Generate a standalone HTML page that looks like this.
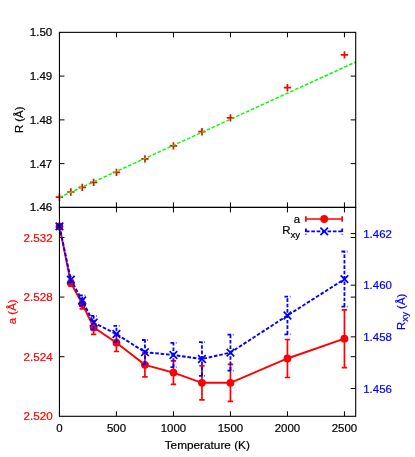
<!DOCTYPE html>
<html><head><meta charset="utf-8"><title>plot</title>
<style>html,body{margin:0;padding:0;background:#fff;}svg{display:block;position:absolute;left:0;top:0;will-change:transform;}text{font-family:"Liberation Sans",sans-serif;}</style>
</head><body>
<svg width="415" height="457" viewBox="0 0 415 457">
<rect x="0" y="0" width="415" height="457" fill="#ffffff"/>
<path d="M59.45,32.35v5M59.45,202.4v10M59.45,416.3v-5M116.45,32.35v5M116.45,202.4v10M116.45,416.3v-5M173.45,32.35v5M173.45,202.4v10M173.45,416.3v-5M230.45,32.35v5M230.45,202.4v10M230.45,416.3v-5M287.45,32.35v5M287.45,202.4v10M287.45,416.3v-5M344.45,32.35v5M344.45,202.4v10M344.45,416.3v-5M59.45,76.11h5M355.7,76.11h-5M59.45,119.88h5M355.7,119.88h-5M59.45,163.64h5M355.7,163.64h-5M59.45,356.70h5M355.7,356.70h-5M59.45,297.10h5M355.7,297.10h-5M59.45,237.50h5M355.7,237.50h-5M355.7,388.50h-5M355.7,336.85h-5M355.7,285.20h-5M355.7,233.55h-5" stroke="#000" stroke-width="1" fill="none"/>
<path d="M55.75,197.20h7.4M59.45,193.50v7.4M67.15,192.00h7.4M70.85,188.30v7.4M78.55,187.40h7.4M82.25,183.70v7.4M89.95,182.40h7.4M93.65,178.70v7.4M112.75,172.40h7.4M116.45,168.70v7.4M141.25,158.90h7.4M144.95,155.20v7.4M169.75,145.90h7.4M173.45,142.20v7.4M198.25,131.70h7.4M201.95,128.00v7.4M226.75,117.90h7.4M230.45,114.20v7.4M283.75,87.70h7.4M287.45,84.00v7.4M340.75,54.90h7.4M344.45,51.20v7.4" stroke="#ff0000" stroke-width="1.7" fill="none"/>
<line x1="59.45" y1="197.5" x2="355.7" y2="62" stroke="#00ff00" stroke-width="1.5" stroke-dasharray="3.5,1.9"/>
<g stroke="#ff0000" stroke-width="2" fill="none">
<path d="M59.45,225.80V227.00M56.75,225.80h5.4M56.75,227.00h5.4M70.85,280.00V286.00M68.15,280.00h5.4M68.15,286.00h5.4M82.25,298.80V308.80M79.55,298.80h5.4M79.55,308.80h5.4M93.65,320.50V334.30M90.95,320.50h5.4M90.95,334.30h5.4M116.45,333.90V351.50M113.75,333.90h5.4M113.75,351.50h5.4M144.95,352.80V376.80M142.25,352.80h5.4M142.25,376.80h5.4M173.45,360.80V384.40M170.75,360.80h5.4M170.75,384.40h5.4M201.95,365.80V399.80M199.25,365.80h5.4M199.25,399.80h5.4M230.45,364.30V401.30M227.75,364.30h5.4M227.75,401.30h5.4M287.45,339.50V377.50M284.75,339.50h5.4M284.75,377.50h5.4M344.45,309.80V367.60M341.75,309.80h5.4M341.75,367.60h5.4" stroke-width="1.7"/>
<polyline stroke-width="1.9" points="59.45,226.40 70.85,283.00 82.25,303.80 93.65,327.40 116.45,342.70 144.95,364.80 173.45,372.60 201.95,382.80 230.45,382.80 287.45,358.50 344.45,338.70"/>
</g>
<g fill="#ff0000">
<circle cx="59.45" cy="226.40" r="3.9"/>
<circle cx="70.85" cy="283.00" r="3.9"/>
<circle cx="82.25" cy="303.80" r="3.9"/>
<circle cx="93.65" cy="327.40" r="3.9"/>
<circle cx="116.45" cy="342.70" r="3.9"/>
<circle cx="144.95" cy="364.80" r="3.9"/>
<circle cx="173.45" cy="372.60" r="3.9"/>
<circle cx="201.95" cy="382.80" r="3.9"/>
<circle cx="230.45" cy="382.80" r="3.9"/>
<circle cx="287.45" cy="358.50" r="3.9"/>
<circle cx="344.45" cy="338.70" r="3.9"/>
</g>
<g stroke="#0000ff" stroke-width="1.8" fill="none" stroke-dasharray="3.6,1.8">
<path d="M59.45,227.00V225.80"/><path d="M56.45,227.00h6"/><path d="M56.45,225.80h6"/>
<path d="M70.85,282.70V276.70"/><path d="M67.85,282.70h6"/><path d="M67.85,276.70h6"/>
<path d="M82.25,305.70V295.30"/><path d="M79.25,305.70h6"/><path d="M79.25,295.30h6"/>
<path d="M93.65,329.50V315.90"/><path d="M90.65,329.50h6"/><path d="M90.65,315.90h6"/>
<path d="M116.45,342.10V325.90"/><path d="M113.45,342.10h6"/><path d="M113.45,325.90h6"/>
<path d="M144.95,364.40V340.00"/><path d="M141.95,364.40h6"/><path d="M141.95,340.00h6"/>
<path d="M173.45,367.20V342.80"/><path d="M170.45,367.20h6"/><path d="M170.45,342.80h6"/>
<path d="M201.95,375.80V342.20"/><path d="M198.95,375.80h6"/><path d="M198.95,342.20h6"/>
<path d="M230.45,370.60V334.60"/><path d="M227.45,370.60h6"/><path d="M227.45,334.60h6"/>
<path d="M287.45,334.30V296.70"/><path d="M284.45,334.30h6"/><path d="M284.45,296.70h6"/>
<path d="M344.45,306.70V251.50"/><path d="M341.45,306.70h6"/><path d="M341.45,251.50h6"/>
<polyline stroke-width="1.9" points="59.45,226.40 70.85,279.70 82.25,300.50 93.65,322.70 116.45,334.00 144.95,352.20 173.45,355.00 201.95,359.00 230.45,352.60 287.45,315.50 344.45,279.10"/>
</g>
<path d="M55.65,222.60l7.6,7.6M55.65,230.20l7.6,-7.6M67.05,275.90l7.6,7.6M67.05,283.50l7.6,-7.6M78.45,296.70l7.6,7.6M78.45,304.30l7.6,-7.6M89.85,318.90l7.6,7.6M89.85,326.50l7.6,-7.6M112.65,330.20l7.6,7.6M112.65,337.80l7.6,-7.6M141.15,348.40l7.6,7.6M141.15,356.00l7.6,-7.6M169.65,351.20l7.6,7.6M169.65,358.80l7.6,-7.6M198.15,355.20l7.6,7.6M198.15,362.80l7.6,-7.6M226.65,348.80l7.6,7.6M226.65,356.40l7.6,-7.6M283.65,311.70l7.6,7.6M283.65,319.30l7.6,-7.6M340.65,275.30l7.6,7.6M340.65,282.90l7.6,-7.6" stroke="#0000ff" stroke-width="1.7" fill="none"/>
<g stroke="#ff0000" stroke-width="1.7" fill="none"><path d="M305.9,219H342.2M305.9,216.2v5.6M342.2,216.2v5.6"/></g>
<circle cx="324.2" cy="219" r="3.9" fill="#ff0000"/>
<g stroke="#0000ff" stroke-width="1.8" fill="none" stroke-dasharray="3.6,1.8"><path d="M305.9,231.4H342.2"/><path d="M305.9,228.4v6"/><path d="M342.2,228.4v6"/></g>
<path d="M320.4,227.6l7.6,7.6M320.4,235.2l7.6,-7.6" stroke="#0000ff" stroke-width="1.7" fill="none"/>
<text transform="translate(300.00,223.20) scale(1.035,1)" text-anchor="end" font-size="11" fill="#000" stroke="#000" stroke-width="0.2">a</text>
<text transform="translate(300.00,234.00) scale(1.035,1)" text-anchor="end" font-size="11" fill="#000" stroke="#000" stroke-width="0.2">R<tspan font-size="9.3" dy="3.7">xy</tspan></text>
<g stroke="#000" stroke-width="1.1" fill="none">
<rect x="59.45" y="32.35" width="296.25" height="175.05"/>
<rect x="59.45" y="207.4" width="296.25" height="208.90"/>
</g>
<text transform="translate(52.30,36.35) scale(1.055,1)" text-anchor="end" font-size="11" fill="#000" stroke="#000" stroke-width="0.2">1.50</text>
<text transform="translate(52.30,80.11) scale(1.055,1)" text-anchor="end" font-size="11" fill="#000" stroke="#000" stroke-width="0.2">1.49</text>
<text transform="translate(52.30,123.88) scale(1.055,1)" text-anchor="end" font-size="11" fill="#000" stroke="#000" stroke-width="0.2">1.48</text>
<text transform="translate(52.30,167.64) scale(1.055,1)" text-anchor="end" font-size="11" fill="#000" stroke="#000" stroke-width="0.2">1.47</text>
<text transform="translate(52.30,211.40) scale(1.055,1)" text-anchor="end" font-size="11" fill="#000" stroke="#000" stroke-width="0.2">1.46</text>
<text transform="translate(52.60,420.30) scale(1.055,1)" text-anchor="end" font-size="11" fill="#ff0000" stroke="#ff0000" stroke-width="0.2">2.520</text>
<text transform="translate(52.60,360.70) scale(1.055,1)" text-anchor="end" font-size="11" fill="#ff0000" stroke="#ff0000" stroke-width="0.2">2.524</text>
<text transform="translate(52.60,301.10) scale(1.055,1)" text-anchor="end" font-size="11" fill="#ff0000" stroke="#ff0000" stroke-width="0.2">2.528</text>
<text transform="translate(52.60,241.50) scale(1.055,1)" text-anchor="end" font-size="11" fill="#ff0000" stroke="#ff0000" stroke-width="0.2">2.532</text>
<text transform="translate(363.20,392.50) scale(1.045,1)" text-anchor="start" font-size="11" fill="#0000ff" stroke="#0000ff" stroke-width="0.2">1.456</text>
<text transform="translate(363.20,340.85) scale(1.045,1)" text-anchor="start" font-size="11" fill="#0000ff" stroke="#0000ff" stroke-width="0.2">1.458</text>
<text transform="translate(363.20,289.20) scale(1.045,1)" text-anchor="start" font-size="11" fill="#0000ff" stroke="#0000ff" stroke-width="0.2">1.460</text>
<text transform="translate(363.20,237.55) scale(1.045,1)" text-anchor="start" font-size="11" fill="#0000ff" stroke="#0000ff" stroke-width="0.2">1.462</text>
<text transform="translate(59.45,431.70) scale(1.04,1)" text-anchor="middle" font-size="11" fill="#000" stroke="#000" stroke-width="0.2">0</text>
<text transform="translate(116.45,431.70) scale(1.04,1)" text-anchor="middle" font-size="11" fill="#000" stroke="#000" stroke-width="0.2">500</text>
<text transform="translate(173.45,431.70) scale(1.04,1)" text-anchor="middle" font-size="11" fill="#000" stroke="#000" stroke-width="0.2">1000</text>
<text transform="translate(230.45,431.70) scale(1.04,1)" text-anchor="middle" font-size="11" fill="#000" stroke="#000" stroke-width="0.2">1500</text>
<text transform="translate(287.45,431.70) scale(1.04,1)" text-anchor="middle" font-size="11" fill="#000" stroke="#000" stroke-width="0.2">2000</text>
<text transform="translate(344.45,431.70) scale(1.04,1)" text-anchor="middle" font-size="11" fill="#000" stroke="#000" stroke-width="0.2">2500</text>
<text transform="translate(207.30,449.40) scale(1.035,1)" text-anchor="middle" font-size="11.4" fill="#000" stroke="#000" stroke-width="0.2">Temperature (K)</text>
<text transform="translate(23.10,119.80) rotate(-90) scale(1.035,1)" text-anchor="middle" font-size="11" fill="#000" stroke="#000" stroke-width="0.2">R (Å)</text>
<text transform="translate(16.10,311.80) rotate(-90) scale(1.035,1)" text-anchor="middle" font-size="11" fill="#ff0000" stroke="#ff0000" stroke-width="0.2">a (Å)</text>
<text transform="translate(404.60,311.80) rotate(-90) scale(1.035,1)" text-anchor="middle" font-size="11" fill="#0000ff" stroke="#0000ff" stroke-width="0.2">R<tspan font-size="9.3" dy="3.7">xy</tspan><tspan dy="-3.7"> (Å)</tspan></text>
</svg>
</body></html>
